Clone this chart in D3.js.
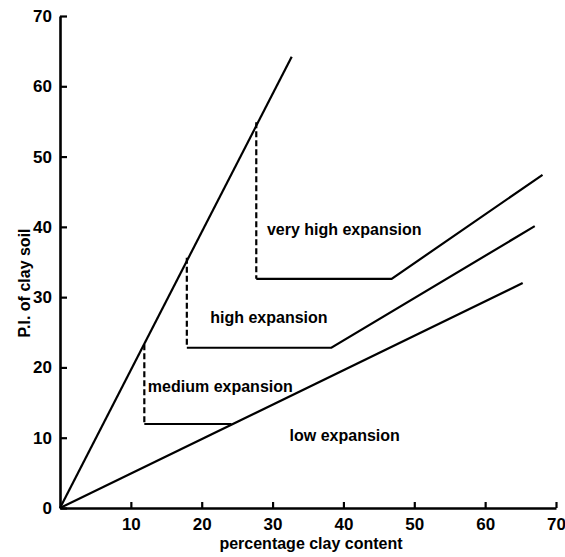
<!DOCTYPE html>
<html>
<head>
<meta charset="utf-8">
<script src="https://cdn.jsdelivr.net/npm/d3@7"></script>
<style>
  html, body { margin: 0; padding: 0; background: #fff; }
  text { font-family: "Liberation Sans", Arial, sans-serif; fill: #000; }
</style>
</head>
<body>
<div id="chart"></div>
<script>
// ---- data ----
const xTicks = [10, 20, 30, 40, 50, 60, 70];
const yTicks = [0, 10, 20, 30, 40, 50, 60, 70];

// steep boundary (upper limit) and low boundary
const steepX = [0, 32.7];
const steepY = [0, 64.2];
const lowX = [0, 65.3];
const lowY = [0, 32.0];

// medium / low step
const medLowX = [11.9, 24.2];
const medLowY = [11.95, 11.95];
// high / medium boundary
const highMedX = [17.9, 38.3, 67.0];
const highMedY = [22.8, 22.8, 40.1];
// very high / high boundary
const vhHighX = [27.7, 46.8, 68.1];
const vhHighY = [32.6, 32.6, 47.4];

// dashed verticals
const dashX = [11.9, 17.9, 27.7];
const dashTop = [23.3, 35.6, 54.9];
const dashBottom = [11.95, 22.8, 32.6];

// zone labels
const zoneNames = ["very high expansion", "high expansion", "medium expansion", "low expansion"];
const zoneX = [29.2, 21.2, 12.4, 32.4];
const zoneY = [38.8, 26.3, 16.5, 9.5];

// ---- chart ----
const width = 565, height = 557;
const svg = d3.select("#chart").append("svg")
  .attr("width", width)
  .attr("height", height);

const x = d3.scaleLinear().domain([0, 70]).range([60, 556]);
const y = d3.scaleLinear().domain([0, 70]).range([508, 16]);

const zip = (xs, ys) => xs.map((v, i) => [v, ys[i]]);
const line = d3.line().x(d => x(d[0])).y(d => y(d[1]));

// axes
const xAxis = svg.append("g")
  .attr("transform", `translate(0,${y(0)})`)
  .call(d3.axisBottom(x).tickValues(xTicks).tickSizeInner(-6).tickSizeOuter(0).tickPadding(10));
const yAxis = svg.append("g")
  .attr("transform", `translate(${x(0)},0)`)
  .call(d3.axisLeft(y).tickValues(yTicks).tickSizeInner(-7).tickSizeOuter(0).tickPadding(8));

[xAxis, yAxis].forEach(g => {
  g.select(".domain").attr("stroke", "#000").attr("stroke-width", 2.6);
  g.selectAll(".tick line").attr("stroke", "#000").attr("stroke-width", 2.2);
  g.selectAll(".tick text")
    .style("font-size", "17px")
    .style("font-weight", "bold")
    .attr("fill", "#000");
});

// solid boundaries
const solid = [zip(steepX, steepY), zip(lowX, lowY), zip(medLowX, medLowY),
               zip(highMedX, highMedY), zip(vhHighX, vhHighY)];
svg.append("g").selectAll("path")
  .data(solid)
  .join("path")
  .attr("d", line)
  .attr("fill", "none")
  .attr("stroke", "#000")
  .attr("stroke-width", 2.2);

// dashed verticals
svg.append("g").selectAll("line")
  .data(dashX)
  .join("line")
  .attr("x1", d => x(d))
  .attr("x2", d => x(d))
  .attr("y1", (d, i) => y(dashTop[i]))
  .attr("y2", (d, i) => y(dashBottom[i]))
  .attr("stroke", "#000")
  .attr("stroke-width", 2.2)
  .attr("stroke-dasharray", "6,3");

// zone labels
svg.append("g").selectAll("text")
  .data(zoneNames)
  .join("text")
  .attr("x", (d, i) => x(zoneX[i]))
  .attr("y", (d, i) => y(zoneY[i]))
  .style("font-size", "16px")
  .style("font-weight", "bold")
  .text(d => d);

// axis titles
svg.append("text")
  .attr("x", 311)
  .attr("y", 549)
  .attr("text-anchor", "middle")
  .style("font-size", "16px")
  .style("font-weight", "bold")
  .text("percentage clay content");

svg.append("text")
  .attr("transform", "translate(30,283) rotate(-90)")
  .attr("text-anchor", "middle")
  .style("font-size", "16px")
  .style("font-weight", "bold")
  .text("P.I. of clay soil");
</script>
</body>
</html>
